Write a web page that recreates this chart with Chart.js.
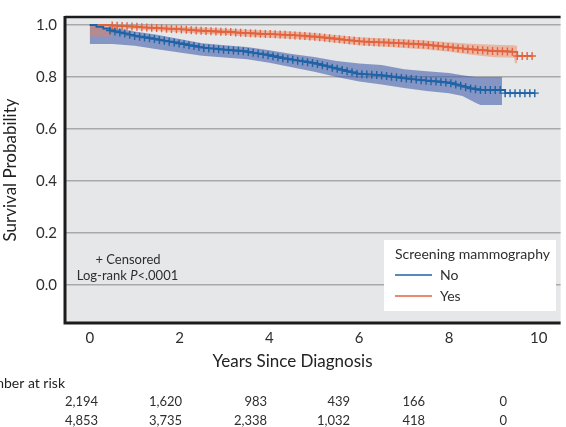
<!DOCTYPE html>
<html>
<head>
<meta charset="utf-8">
<script src="https://cdn.jsdelivr.net/npm/chart.js@4/dist/chart.umd.min.js"></script>
<style>
  html, body { margin: 0; padding: 0; background: #fff; overflow: hidden; }
  #wrap { width: 566px; height: 427px; }
</style>
</head>
<body>
<div id="wrap"><canvas id="km" width="566" height="427"></canvas></div>
<script>
// Kaplan-Meier estimates (years, survival probability)
const noTimes = [0, 0.15, 0.3, 0.45, 0.56, 0.67, 0.78, 0.89, 1.0, 1.11, 1.22, 1.33, 1.44, 1.55, 1.66, 1.77, 1.88, 1.99,
  2.1, 2.21, 2.32, 2.43, 2.54, 2.65, 2.76, 2.87, 2.98, 3.09, 3.2, 3.31, 3.42, 3.53, 3.64, 3.75, 3.86, 3.97,
  4.08, 4.19, 4.3, 4.41, 4.52, 4.63, 4.74, 4.85, 4.96, 5.07, 5.18, 5.29, 5.4, 5.51, 5.62, 5.73, 5.84, 5.95,
  6.06, 6.17, 6.28, 6.39, 6.5, 6.61, 6.72, 6.83, 6.94, 7.05, 7.16, 7.27, 7.38, 7.49, 7.6, 7.71, 7.82, 7.93,
  8.04, 8.15, 8.26, 8.37, 8.48, 8.59, 8.7, 8.81, 8.92, 9.03, 9.14, 9.25, 9.36, 9.47, 9.58, 9.69, 9.8, 9.91];
const noSurv = [1.0, 0.993, 0.986, 0.979, 0.975, 0.971, 0.967, 0.962, 0.958, 0.955, 0.952, 0.949, 0.946, 0.942, 0.939, 0.936, 0.933, 0.929,
  0.926, 0.922, 0.919, 0.915, 0.912, 0.910, 0.909, 0.907, 0.905, 0.904, 0.902, 0.901, 0.899, 0.896, 0.893, 0.890, 0.887, 0.884,
  0.880, 0.876, 0.872, 0.869, 0.866, 0.863, 0.860, 0.857, 0.854, 0.850, 0.845, 0.841, 0.836, 0.832, 0.827, 0.822, 0.818, 0.813,
  0.811, 0.810, 0.809, 0.808, 0.806, 0.804, 0.801, 0.799, 0.796, 0.794, 0.792, 0.790, 0.788, 0.786, 0.784, 0.783, 0.781, 0.779,
  0.776, 0.771, 0.766, 0.761, 0.756, 0.753, 0.750, 0.750, 0.750, 0.750, 0.750, 0.738, 0.738, 0.738, 0.738, 0.738, 0.738, 0.738];

const yesTimes = [0, 0.5, 0.61, 0.72, 0.83, 0.94, 1.05, 1.16, 1.27, 1.38, 1.49, 1.6, 1.71, 1.82, 1.93, 2.04, 2.15, 2.26, 2.37,
  2.48, 2.59, 2.7, 2.81, 2.92, 3.03, 3.14, 3.25, 3.36, 3.47, 3.58, 3.69, 3.8, 3.91, 4.02, 4.13, 4.24, 4.35, 4.46,
  4.57, 4.68, 4.79, 4.9, 5.01, 5.12, 5.23, 5.34, 5.45, 5.56, 5.67, 5.78, 5.89, 6.0, 6.11, 6.22, 6.33, 6.44, 6.55,
  6.66, 6.77, 6.88, 6.99, 7.1, 7.21, 7.32, 7.43, 7.54, 7.65, 7.76, 7.87, 7.98, 8.09, 8.2, 8.31, 8.42, 8.53, 8.64,
  8.75, 8.86, 8.97, 9.08, 9.19, 9.3, 9.41, 9.52, 9.63, 9.74, 9.85];
const yesSurv = [1.0, 0.998, 0.997, 0.996, 0.995, 0.994, 0.993, 0.991, 0.990, 0.989, 0.988, 0.987, 0.986, 0.985, 0.984, 0.983, 0.982, 0.980, 0.979,
  0.978, 0.977, 0.976, 0.975, 0.974, 0.974, 0.973, 0.971, 0.970, 0.969, 0.968, 0.967, 0.966, 0.965, 0.965, 0.964, 0.963, 0.962, 0.961,
  0.960, 0.959, 0.958, 0.956, 0.955, 0.953, 0.951, 0.949, 0.947, 0.945, 0.943, 0.941, 0.939, 0.937, 0.936, 0.935, 0.934, 0.933, 0.933,
  0.932, 0.931, 0.930, 0.929, 0.928, 0.927, 0.926, 0.925, 0.923, 0.921, 0.919, 0.917, 0.915, 0.913, 0.911, 0.909, 0.907, 0.906, 0.904,
  0.903, 0.901, 0.900, 0.899, 0.899, 0.898, 0.897, 0.881, 0.881, 0.881, 0.881];

// 95% confidence bands
const noCiTimes = [0, 0.5, 1.0, 1.5, 2.0, 2.5, 3.0, 3.5, 4.0, 4.5, 5.0, 5.5, 6.0, 6.5, 7.0, 7.5, 8.0, 8.3, 8.6, 8.7, 9.18];
const noCiUpper = [1.0, 0.99, 0.975, 0.962, 0.946, 0.93, 0.922, 0.915, 0.903, 0.888, 0.877, 0.862, 0.852, 0.846, 0.83, 0.822, 0.815, 0.807, 0.80, 0.80, 0.80];
const noCiLower = [0.927, 0.927, 0.92, 0.907, 0.894, 0.882, 0.875, 0.868, 0.855, 0.838, 0.82, 0.80, 0.783, 0.771, 0.758, 0.746, 0.738, 0.727, 0.70, 0.692, 0.692];

const yesCiTimes = [0, 0.5, 0.52, 1.0, 1.5, 2.0, 2.5, 3.0, 3.5, 4.0, 4.5, 5.0, 5.5, 6.0, 6.5, 7.0, 7.5, 8.0, 8.5, 9.0, 9.45, 9.47, 9.52];
const yesCiUpper = [1.0, 1.0, 1.0, 1.0, 0.997, 0.994, 0.99, 0.986, 0.982, 0.978, 0.975, 0.969, 0.961, 0.953, 0.949, 0.945, 0.94, 0.934, 0.928, 0.924, 0.922, 0.92, 0.92];
const yesCiLower = [0.956, 0.956, 0.987, 0.984, 0.978, 0.972, 0.966, 0.962, 0.956, 0.951, 0.947, 0.941, 0.932, 0.922, 0.917, 0.912, 0.906, 0.897, 0.886, 0.876, 0.874, 0.853, 0.853];

const xTicks = [0, 2, 4, 6, 8, 10];
const yTicks = [0, 0.2, 0.4, 0.6, 0.8, 1.0];

const groupLabels = ['No', 'Yes'];
const riskNo = ['2,194', '1,620', '983', '439', '166', '0'];
const riskYes = ['4,853', '3,735', '2,338', '1,032', '418', '0'];

const BLUE = '#1f63a5';
const ORANGE = '#e1633f';
const FONT = 'Lato, "DejaVu Sans", sans-serif';
const TEXT = '#2e2e2e';

// right edges of the number-at-risk columns
const riskCols = [98, 182, 267, 350, 425, 507];

function pts(xs, ys) {
  return xs.map((x, i) => ({ x, y: ys[i] }));
}

function kmLine(label, xs, ys, color) {
  return {
    label,
    data: pts(xs, ys),
    showLine: true,
    stepped: true,
    borderColor: color,
    borderWidth: 1.8,
    pointStyle: 'cross',
    pointRadius: (ctx) => (ctx.raw && ctx.raw.x < 0.4 ? 0 : 4),
    pointBorderColor: color,
    pointBorderWidth: 1.4,
    fill: false,
    order: 0,
  };
}

function band(xs, ys, fill, color, order) {
  return {
    data: pts(xs, ys),
    showLine: true,
    tension: 0,
    borderWidth: 0,
    borderColor: 'rgba(0,0,0,0)',
    pointRadius: 0,
    backgroundColor: color,
    fill,
    order,
  };
}

const frame = {
  id: 'frame',
  beforeDraw(chart) {
    const { ctx, chartArea: a } = chart;
    ctx.save();
    ctx.fillStyle = '#e6e7e8';
    ctx.fillRect(a.left, a.top, a.right - a.left, a.bottom - a.top);
    ctx.restore();
  },
  afterDraw(chart) {
    const { ctx, chartArea: a } = chart;
    ctx.save();
    // plot frame (right side is cut off in the figure)
    ctx.strokeStyle = '#1c1c1c';
    ctx.lineWidth = 2.5;
    ctx.beginPath();
    ctx.moveTo(a.right, a.top);
    ctx.lineTo(a.left, a.top);
    ctx.stroke();
    ctx.lineWidth = 3;
    ctx.beginPath();
    ctx.moveTo(a.left, a.top - 1);
    ctx.lineTo(a.left, a.bottom);
    ctx.lineTo(a.right, a.bottom);
    ctx.stroke();

    // censor note and log-rank test
    ctx.fillStyle = TEXT;
    ctx.textBaseline = 'middle';
    ctx.font = '13px ' + FONT;
    ctx.textAlign = 'center';
    ctx.fillText('+ Censored', 128, 260);
    const parts = [['Log-rank ', ''], ['P', 'italic '], ['<.0001', '']];
    let total = 0;
    parts.forEach(([t, s]) => { ctx.font = s + '13px ' + FONT; total += ctx.measureText(t).width; });
    let x = 127.5 - total / 2;
    ctx.textAlign = 'left';
    parts.forEach(([t, s]) => {
      ctx.font = s + '13px ' + FONT;
      ctx.fillText(t, x, 276);
      x += ctx.measureText(t).width;
    });

    // legend box
    ctx.fillStyle = '#fff';
    ctx.fillRect(384, 240, 172, 71);
    ctx.fillStyle = TEXT;
    ctx.font = '14px ' + FONT;
    ctx.fillText('Screening mammography', 395, 254);
    [BLUE, ORANGE].forEach((c, i) => {
      const y = 275 + i * 21;
      ctx.strokeStyle = c;
      ctx.lineWidth = 1.5;
      ctx.beginPath();
      ctx.moveTo(395, y);
      ctx.lineTo(432, y);
      ctx.stroke();
      ctx.fillText(groupLabels[i], 440, y);
    });

    // x-axis title
    ctx.font = '17px ' + FONT;
    ctx.textAlign = 'center';
    ctx.fillStyle = '#222';
    ctx.fillText('Years Since Diagnosis', 292.5, 362);

    // number at risk table
    ctx.font = '14px ' + FONT;
    ctx.textAlign = 'right';
    ctx.fillText('Number at risk', 65, 383);
    ctx.font = '13px ' + FONT;
    ctx.fillStyle = TEXT;
    [riskNo, riskYes].forEach((row, r) => {
      row.forEach((v, i) => ctx.fillText(v, riskCols[i], 402 + r * 19));
    });
    ctx.restore();
  },
};

new Chart(document.getElementById('km'), {
  type: 'scatter',
  data: {
    datasets: [
      kmLine(groupLabels[0], noTimes, noSurv, BLUE),
      kmLine(groupLabels[1], yesTimes, yesSurv, ORANGE),
      band(yesCiTimes, yesCiUpper, false, 'rgba(240,125,85,0.45)', 2),
      band(yesCiTimes, yesCiLower, '-1', 'rgba(240,125,85,0.45)', 2),
      band(noCiTimes, noCiUpper, false, 'rgba(62,92,170,0.58)', 3),
      band(noCiTimes, noCiLower, '-1', 'rgba(62,92,170,0.58)', 3),
    ],
  },
  options: {
    responsive: false,
    animation: false,
    events: [],
    layout: { padding: { top: 16, left: 0, right: 0, bottom: 0 } },
    plugins: { legend: { display: false }, tooltip: { enabled: false } },
    scales: {
      x: {
        type: 'linear',
        min: -0.551,
        max: 10.485,
        afterBuildTicks: (s) => { s.ticks = xTicks.map((v) => ({ value: v })); },
        afterFit: (s) => { s.height = 104; },
        grid: { display: false, drawTicks: false },
        border: { display: false },
        ticks: { padding: 6, color: TEXT, font: { family: FONT, size: 15 }, maxRotation: 0 },
      },
      y: {
        min: -0.1456,
        max: 1.0307,
        afterBuildTicks: (s) => { s.ticks = yTicks.map((v) => ({ value: v })); },
        afterFit: (s) => { s.width = 65; },
        grid: { color: '#a9a9a9', lineWidth: 1.5, drawTicks: false },
        border: { display: false },
        ticks: {
          padding: 8,
          color: TEXT,
          font: { family: FONT, size: 15 },
          callback: (v) => v.toFixed(1),
        },
        title: {
          display: true,
          text: 'Survival Probability',
          color: '#222',
          font: { family: FONT, size: 17 },
          padding: 0,
        },
      },
    },
  },
  plugins: [frame],
});
</script>
</body>
</html>
